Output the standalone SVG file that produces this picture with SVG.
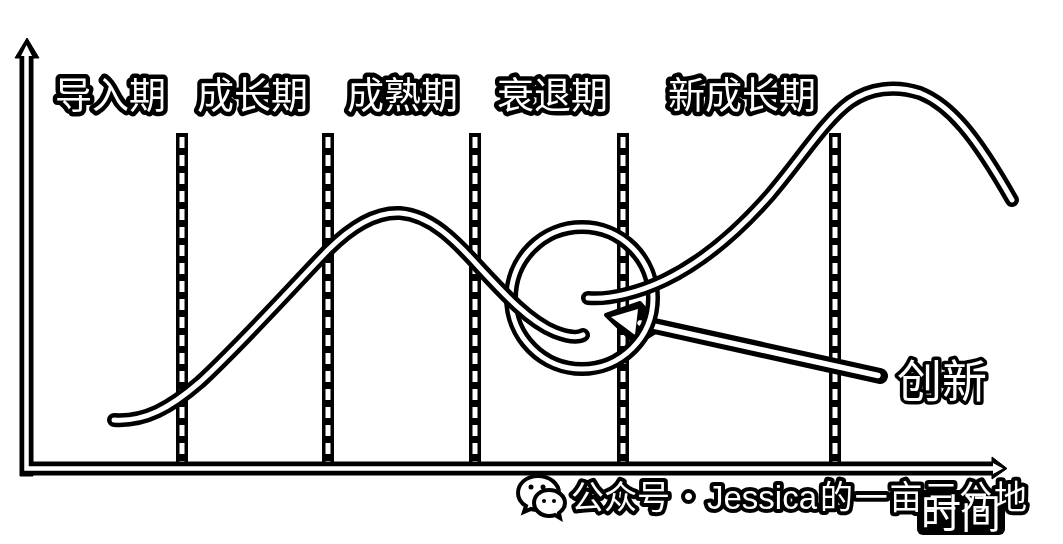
<svg xmlns="http://www.w3.org/2000/svg" width="1063" height="544" viewBox="0 0 1063 544">
<style>
.co{fill:none;stroke:#000;stroke-width:14;stroke-linecap:round}
.ci{fill:none;stroke:#fff;stroke-width:5;stroke-linecap:round}
.do{stroke:#000;stroke-width:12;fill:none}
.di{stroke:#fff;stroke-width:5;stroke-dasharray:11 7;fill:none}
.t{font-family:"Noto Sans CJK SC","Liberation Sans",sans-serif;fill:#fff;stroke:#000;stroke-width:9;paint-order:stroke;stroke-linejoin:round}
.l{font-size:37px}
.w{font-size:33px;stroke-width:8}
</style>
<rect width="1063" height="544" fill="#fff"/>
<g id="connectors">
<g id="dividers">
<path class="do" d="M182 133V465M328 133V465M475 133V465M623 133V465M835 133V465"/>
<path class="di" d="M182 137V463M328 137V463M475 137V463M623 137V463M835 137V463"/>
</g>
<g id="axes">
<path d="M20 58V476H33V475H992V479L1007 468.500L992 457V462H33V58H39L27 38L15 58Z" fill="#000" stroke="#000" stroke-width="1" stroke-linejoin="round"/>
<path d="M26.500 54V468.500H995" fill="none" stroke="#fff" stroke-width="4.500"/>
<path d="M21 56L26.500 45L32 56Z" fill="#fff"/>
<path d="M993 463L1003 468.500L993 474Z" fill="#fff"/>
</g>
<g id="innovation-arrow">
<path d="M880 376L650 325" fill="none" stroke="#000" stroke-width="16" stroke-linecap="round"/>
<path d="M606 315L640 303L662 328L636 344Z" fill="#000" stroke="#000" stroke-width="4" stroke-linejoin="round"/>
<path d="M878 375.500L640 323" fill="none" stroke="#fff" stroke-width="5.500" stroke-linecap="round"/>
<path d="M611 317L638 309L635 335Z" fill="#fff"/>
</g>
<g id="innovation-circle">
<circle class="co" cx="582" cy="298" r="71"/>
<circle class="ci" cx="582" cy="298" r="71"/>
</g>
<g id="curve-1">
<path class="co" d="M114 420C145 422 170 408 200 382C240 345 285 295 328 250C355 223 380 212 400 213C430 215 455 240 480 268C505 295 530 322 555 332C568 337 578 338 583 335"/>
<path class="ci" d="M114 420C145 422 170 408 200 382C240 345 285 295 328 250C355 223 380 212 400 213C430 215 455 240 480 268C505 295 530 322 555 332C568 337 578 338 583 335"/>
</g>
<g id="curve-2">
<path class="co" d="M588 298C610 300 640 292 665 280C700 263 735 235 770 195C800 160 825 120 850 102C870 88 895 85 920 93C950 105 975 135 1012 200"/>
<path class="ci" d="M588 298C610 300 640 292 665 280C700 263 735 235 770 195C800 160 825 120 850 102C870 88 895 85 920 93C950 105 975 135 1012 200"/>
</g>
</g>
<g id="label-intro"><text class="t l" x="55" y="109">导入期</text></g>
<g id="label-growth"><text class="t l" x="197" y="109">成长期</text></g>
<g id="label-mature"><text class="t l" x="347" y="109">成熟期</text></g>
<g id="label-decline"><text class="t l" x="497" y="109">衰退期</text></g>
<g id="label-new"><text class="t l" x="668" y="109">新成长期</text></g>
<g id="label-innovation"><text class="t" x="897" y="398" font-size="45" style="stroke-width:7">创新</text></g>
<g id="time-halo"><rect x="917" y="490" width="88" height="45" rx="6" fill="#000"/></g>
<g id="watermark">
<path d="M538 476C526 476 518 484 518 493C518 499 521 503 526 506L524 512L531 509C534 510 536 510 539 510C550 510 559 502 559 493C559 484 550 476 538 476Z" fill="#fff" stroke="#000" stroke-width="4"/>
<path d="M549 490C540 490 534 496 534 503C534 510 541 516 549 516C551 516 553 516 555 515L560 518L559 513C563 510 565 507 565 503C565 496 558 490 549 490Z" fill="#fff" stroke="#000" stroke-width="4"/>
<circle cx="531" cy="487" r="2.500"/><circle cx="543" cy="487" r="2.500"/><circle cx="544" cy="501" r="2"/><circle cx="554" cy="501" r="2"/>
<text class="t w" x="571" y="509">公众号</text>
<text class="t w" x="672" y="509">·</text>
<text class="t w" x="707" y="509" style="font-family:'Liberation Sans',sans-serif">Jessica</text>
<text class="t w" x="820" y="509" textLength="207">的一亩三分地</text>
</g>
<g id="label-time"><text x="921" y="528" font-size="40" fill="#fff" font-family="'Noto Sans CJK SC','Liberation Sans',sans-serif" style="mix-blend-mode:lighten">时间</text></g>
</svg>
